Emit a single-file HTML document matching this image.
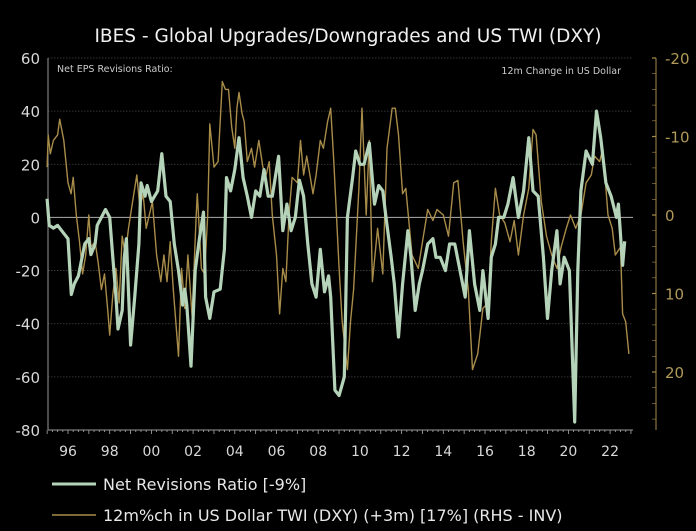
<!DOCTYPE html>
<html><head><meta charset="utf-8"><style>
body{margin:0;background:#000;width:696px;height:531px;overflow:hidden;font-family:"DejaVu Sans","Liberation Sans",sans-serif}
svg{display:block}
</style></head><body>
<svg id="chart" width="696" height="531" xmlns="http://www.w3.org/2000/svg">
<text x="348" y="42" fill="#f0f0f0" font-size="18.5" text-anchor="middle">IBES - Global Upgrades/Downgrades and US TWI (DXY)</text>
<text x="57" y="72" fill="#ccc" font-size="9.5">Net EPS Revisions Ratio:</text>
<text x="621" y="74" fill="#ccc" font-size="9.5" text-anchor="end">12m Change in US Dollar</text>
<g id="grid"></g><g id="axes"></g><g id="series"></g>
<line x1="52" y1="484" x2="96" y2="484" stroke="#b5d3b8" stroke-width="3"/>
<text x="103" y="490" fill="#e8e8e8" font-size="16">Net Revisions Ratio [-9%]</text>
<line x1="52" y1="515" x2="96" y2="515" stroke="#a88c4a" stroke-width="1.5"/>
<text x="103" y="521" fill="#e8e8e8" font-size="16">12m%ch in US Dollar TWI (DXY) (+3m) [17%] (RHS - INV)</text>
</svg>
<script>
const revDates=[1995.0,1995.1,1995.3,1995.5,1995.7,1996.0,1996.16,1996.3,1996.5,1996.8,1997.0,1997.1,1997.3,1997.4,1997.6,1997.8,1998.0,1998.15,1998.3,1998.4,1998.6,1998.7,1998.8,1998.9,1999.0,1999.2,1999.4,1999.5,1999.7,1999.8,2000.0,2000.3,2000.5,2000.7,2000.9,2001.1,2001.3,2001.5,2001.6,2001.7,2001.9,2002.1,2002.3,2002.5,2002.6,2002.8,2003.0,2003.3,2003.5,2003.6,2003.8,2004.0,2004.2,2004.4,2004.6,2004.8,2005.0,2005.2,2005.4,2005.6,2005.8,2006.1,2006.3,2006.5,2006.7,2006.9,2007.1,2007.3,2007.5,2007.7,2007.9,2008.1,2008.3,2008.5,2008.6,2008.8,2009.0,2009.25,2009.4,2009.65,2009.8,2010.0,2010.2,2010.45,2010.7,2010.9,2011.1,2011.25,2011.5,2011.65,2011.85,2012.05,2012.3,2012.45,2012.65,2012.85,2013.0,2013.25,2013.5,2013.65,2013.85,2014.1,2014.3,2014.55,2014.8,2015.05,2015.25,2015.5,2015.75,2015.9,2016.15,2016.3,2016.5,2016.65,2016.9,2017.1,2017.35,2017.6,2017.85,2018.1,2018.3,2018.55,2018.8,2019.0,2019.2,2019.45,2019.6,2019.8,2020.05,2020.3,2020.45,2020.6,2020.85,2021.15,2021.35,2021.55,2021.8,2022.05,2022.3,2022.4,2022.6,2022.7];
const revValues=[7,-3,-4,-3,-5,-8,-29,-25,-22,-10,-8,-14,-10,-3,0,3,0,-15,-30,-42,-35,-15,-8,-28,-48,-30,-10,13,8,12,6,10,24,8,6,-10,-20,-33,-27,-33,-56,-20,-8,2,-30,-38,-28,-27,-12,15,10,18,30,15,8,0,10,8,18,8,8,23,-5,5,-5,0,14,8,-10,-25,-30,-12,-28,-22,-30,-65,-67,-60,0,15,25,20,20,28,5,12,10,0,-15,-25,-45,-25,-5,-15,-35,-25,-20,-10,-8,-15,-15,-20,-10,-10,-20,-30,-5,-25,-35,-20,-38,-15,-10,0,0,5,15,0,10,30,10,8,-15,-38,-20,-5,-25,-15,-20,-77,-20,10,25,20,40,30,13,8,0,5,-18,-9];
const usdDates=[1995.0,1995.05,1995.15,1995.3,1995.5,1995.6,1995.8,1996.0,1996.15,1996.25,1996.4,1996.55,1996.7,1996.85,1997.0,1997.1,1997.3,1997.45,1997.6,1997.75,1997.9,1998.0,1998.15,1998.3,1998.45,1998.6,1998.75,1998.9,1999.1,1999.3,1999.45,1999.6,1999.75,1999.9,2000.05,2000.25,2000.45,2000.6,2000.75,2000.9,2001.05,2001.3,2001.45,2001.6,2001.75,2001.95,2002.15,2002.2,2002.4,2002.55,2002.7,2002.8,2003.0,2003.2,2003.4,2003.55,2003.7,2003.85,2004.0,2004.1,2004.2,2004.35,2004.45,2004.6,2004.8,2004.95,2005.15,2005.35,2005.5,2005.65,2005.8,2006.0,2006.15,2006.3,2006.45,2006.6,2006.75,2007.0,2007.15,2007.3,2007.45,2007.6,2007.75,2007.9,2008.1,2008.25,2008.45,2008.6,2008.75,2009.0,2009.15,2009.4,2009.55,2009.7,2009.95,2010.1,2010.3,2010.45,2010.6,2010.85,2011.1,2011.3,2011.55,2011.7,2011.85,2012.05,2012.2,2012.5,2012.8,2013.0,2013.25,2013.5,2013.7,2014.0,2014.25,2014.5,2014.7,2014.95,2015.2,2015.4,2015.65,2015.9,2016.15,2016.3,2016.5,2016.7,2016.95,2017.2,2017.4,2017.6,2017.85,2018.1,2018.3,2018.45,2018.7,2018.95,2019.2,2019.45,2019.65,2019.9,2020.1,2020.35,2020.6,2020.85,2021.1,2021.25,2021.5,2021.65,2021.9,2022.1,2022.25,2022.5,2022.6,2022.75,2022.9];
const usdValues=[-6.1,-10.2,-7.8,-9.5,-10.2,-12.2,-9.5,-4.1,-2.7,-4.8,0,3.4,7.5,5.1,0,4.1,3.4,6.1,9.5,7.5,11.9,15.3,10.2,6.8,11.2,2.7,5.1,1.7,-1.7,-5.1,-1,-2.7,1.7,0,-1.7,5.1,8.5,5.1,8.5,3.4,9.5,18,6.8,11.9,5.1,12.9,0,-2.7,6.8,7.5,0,-11.6,-6.1,-6.8,-17,-16,-16,-11.2,-8.5,-13.6,-15.6,-12.9,-11.9,-6.8,-8.5,-6.1,-9.5,-6.1,-5.1,-6.8,0,5.1,12.6,6.8,8.5,0,-4.8,-4.1,-9.5,-5.1,-7.5,-5.1,-2.7,-5.1,-9.5,-8.5,-11.9,-13.6,-6.8,6.8,13.6,19.7,13.6,9.5,-3.4,-13.6,0,-9.5,8.5,1.7,7.5,-8.5,-13.6,-13.6,-10.2,-2.7,-3.4,5.1,6.8,3.4,-0.7,0.7,-0.7,0,2.7,-4.1,-4.4,3.4,9.5,19.7,17.7,11.9,11.2,3.4,-3.4,0,1,3.4,0.7,5.1,0,-3.4,-10.9,-10.2,-1.7,2.7,5.1,6.8,4.1,1.7,0,1.7,0,-4.1,-5.1,-7.5,-6.8,-8.5,0,1.7,5.1,4.1,12.6,13.6,17.7];
const leftTicks=[60,40,20,0,-20,-40,-60,-80];
const rightTicks=[-20,-10,0,10,20];
const yearLabels=["96","98","00","02","04","06","08","10","12","14","16","18","20","22"];

const NS="http://www.w3.org/2000/svg";
const X0=48,X1=633,TOP=58,BOT=430;
const xs=y=>68+(y-1996)*20.85;
const yl=v=>TOP+(60-v)*(BOT-TOP)/140;
const yr=v=>215+v*7.85;
function mk(tag,attrs,parent){const e=document.createElementNS(NS,tag);for(const k in attrs)e.setAttribute(k,attrs[k]);document.getElementById(parent).appendChild(e);return e;}
leftTicks.forEach(v=>{
  const g=mk('line',{x1:X0,x2:X1,y1:yl(v),y2:yl(v),stroke:v===0?'#999':'#444','stroke-width':v===0?1.2:0.8,'stroke-dasharray':v===0?'':'1.5,1.5'},'grid');
  
  
  const t=mk('text',{x:40,y:yl(v)+6,fill:'#d8d8d8','font-size':15,'text-anchor':'end'},'axes');
  t.textContent=v;
  
  
});
rightTicks.forEach(v=>{
  const t=mk('text',{x:665,y:yr(v)+6,fill:'#b09a5a','font-size':15},'axes');
  t.textContent=v;
  
  
});
for(let v=-20;v<=27;v+=2){const l=mk('line',{x1:652,x2:656,y1:yr(v),y2:yr(v),stroke:'#a88c4a','stroke-width':v%10===0?1.2:0.6},'axes');

}
let a=mk('line',{x1:X0,x2:X0,y1:TOP,y2:BOT,stroke:'#999','stroke-width':1},'axes');


a=mk('line',{x1:656,x2:656,y1:TOP,y2:BOT,stroke:'#a88c4a','stroke-width':1},'axes');


a=mk('line',{x1:X0,x2:X1,y1:BOT,y2:BOT,stroke:'#999','stroke-width':1},'axes');


for(let m=0;m<=28*4;m++){const yy=1995+m/4;const x=xs(yy);if(x>X1)break;
 const l=mk('line',{x1:x,x2:x,y1:BOT,y2:BOT+(m%4===0?4:2),stroke:'#aaa','stroke-width':0.8},'axes');
 
 }
yearLabels.forEach((s,i)=>{
  const t=mk('text',{x:xs(1996+2*i),y:456,fill:'#d8d8d8','font-size':14,'text-anchor':'middle'},'axes');
  t.textContent=s;
  
  
});
const p2=usdDates.map((d,i)=>(i?'L':'M')+xs(d).toFixed(1)+','+yr(usdValues[i]).toFixed(1)).join('');
const u=mk('path',{d:p2,fill:'none',stroke:'#a88c4a','stroke-width':1.4,'stroke-linejoin':'round'},'series');


const p1=revDates.map((d,i)=>(i?'L':'M')+xs(d).toFixed(1)+','+yl(revValues[i]).toFixed(1)).join('');
const r=mk('path',{d:p1,fill:'none',stroke:'#b5d3b8','stroke-width':3.2,'stroke-linejoin':'round'},'series');


</script>
</body></html>
